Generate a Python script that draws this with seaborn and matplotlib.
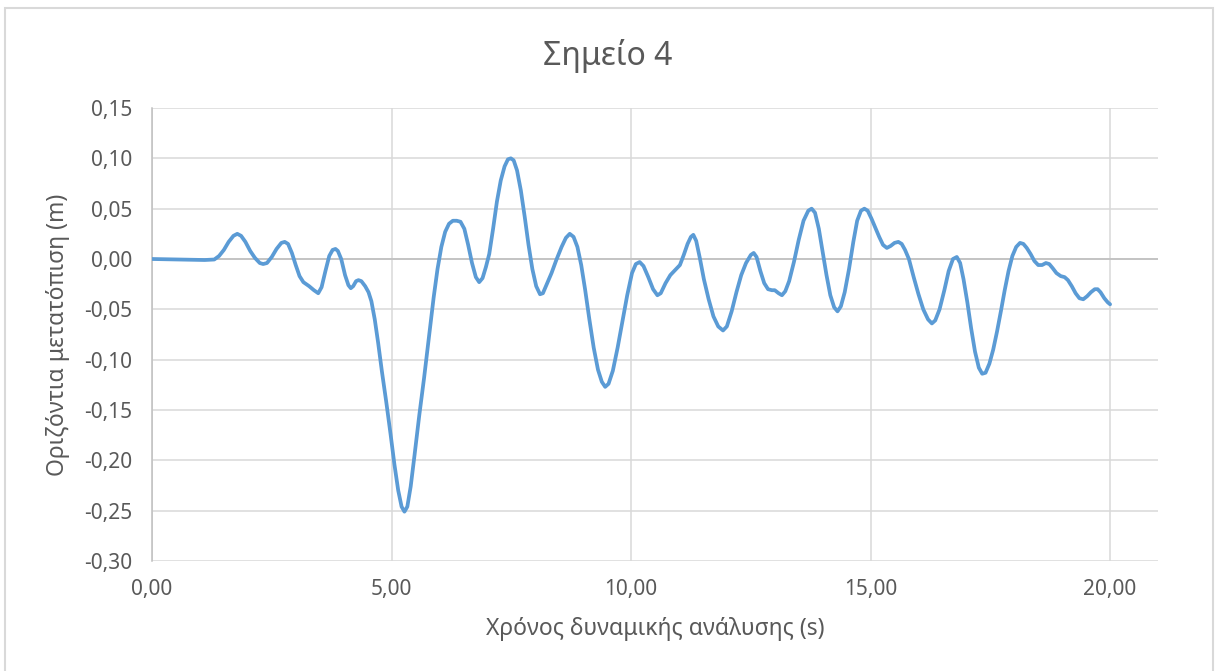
import matplotlib
matplotlib.use("Agg")
import matplotlib.pyplot as plt
import matplotlib.ticker as mticker
from matplotlib.patches import Rectangle
import seaborn as sns
import pandas as pd

# Horizontal displacement time history at point 4
time_s = [
    0.00, 0.60, 1.10, 1.30, 1.40, 1.50, 1.60, 1.70, 1.78, 1.86,
    1.95, 2.05, 2.15, 2.25, 2.32, 2.40, 2.50, 2.60, 2.70, 2.77,
    2.84, 2.92, 3.00, 3.08, 3.16, 3.28, 3.38, 3.47, 3.54, 3.62,
    3.70, 3.77, 3.83, 3.88, 3.95, 4.03, 4.10, 4.15, 4.20, 4.26,
    4.31, 4.37, 4.45, 4.52, 4.58, 4.65, 4.72, 4.80, 4.89, 4.98,
    5.06, 5.14, 5.21, 5.27, 5.33, 5.40, 5.48, 5.58, 5.68, 5.78,
    5.88, 5.96, 6.04, 6.12, 6.20, 6.28, 6.36, 6.44, 6.52, 6.60,
    6.68, 6.76, 6.83, 6.90, 6.97, 7.04, 7.12, 7.20, 7.28, 7.36,
    7.43, 7.49, 7.55, 7.62, 7.70, 7.78, 7.86, 7.94, 8.02, 8.10,
    8.16, 8.24, 8.34, 8.44, 8.55, 8.64, 8.72, 8.80, 8.88, 8.96,
    9.04, 9.13, 9.22, 9.31, 9.39, 9.46, 9.53, 9.62, 9.72, 9.82,
    9.92, 10.02, 10.10, 10.18, 10.26, 10.36, 10.46, 10.55, 10.62, 10.72,
    10.82, 10.92, 11.02, 11.10, 11.18, 11.25, 11.30, 11.36, 11.44, 11.52,
    11.62, 11.72, 11.82, 11.92, 12.00, 12.10, 12.20, 12.30, 12.40, 12.50,
    12.56, 12.62, 12.70, 12.78, 12.86, 12.94, 13.00, 13.08, 13.15, 13.22,
    13.30, 13.40, 13.50, 13.60, 13.70, 13.77, 13.84, 13.92, 14.00, 14.08,
    14.16, 14.24, 14.31, 14.38, 14.46, 14.55, 14.64, 14.72, 14.80, 14.87,
    14.94, 15.02, 15.10, 15.18, 15.26, 15.34, 15.42, 15.50, 15.58, 15.65,
    15.72, 15.80, 15.90, 16.00, 16.10, 16.20, 16.28, 16.35, 16.44, 16.54,
    16.63, 16.72, 16.80, 16.87, 16.94, 17.02, 17.10, 17.18, 17.26, 17.33,
    17.40, 17.48, 17.56, 17.64, 17.72, 17.80, 17.88, 17.96, 18.04, 18.12,
    18.19, 18.26, 18.34, 18.42, 18.50, 18.58, 18.66, 18.73, 18.80, 18.88,
    18.97, 19.05, 19.12, 19.20, 19.28, 19.36, 19.44, 19.52, 19.60, 19.68,
    19.74, 19.80, 19.88, 19.95, 20.00,
]
displacement_m = [
    0.000, -0.0005, -0.001, -0.0005, 0.003, 0.009, 0.017, 0.023, 0.025, 0.023,
    0.017, 0.008, 0.001, -0.004, -0.005, -0.004, 0.002, 0.010, 0.016, 0.017,
    0.015, 0.006, -0.006, -0.017, -0.023, -0.027, -0.031, -0.034, -0.028, -0.012,
    0.003, 0.009, 0.010, 0.008, 0.000, -0.016, -0.026, -0.029, -0.027, -0.022,
    -0.021, -0.022, -0.027, -0.033, -0.042, -0.060, -0.083, -0.112, -0.142, -0.174,
    -0.204, -0.230, -0.246, -0.251, -0.246, -0.226, -0.195, -0.155, -0.118, -0.078,
    -0.038, -0.010, 0.012, 0.027, 0.035, 0.038, 0.038, 0.037, 0.030, 0.014,
    -0.004, -0.018, -0.023, -0.019, -0.008, 0.005, 0.030, 0.057, 0.078, 0.092,
    0.099, 0.100, 0.098, 0.088, 0.068, 0.042, 0.014, -0.010, -0.027, -0.035,
    -0.034, -0.025, -0.014, -0.001, 0.012, 0.021, 0.025, 0.022, 0.012, -0.006,
    -0.030, -0.060, -0.088, -0.110, -0.122, -0.127, -0.124, -0.111, -0.088, -0.062,
    -0.036, -0.014, -0.005, -0.003, -0.007, -0.018, -0.030, -0.036, -0.034, -0.024,
    -0.016, -0.011, -0.006, 0.004, 0.015, 0.022, 0.024, 0.018, 0.000, -0.020,
    -0.040, -0.057, -0.067, -0.071, -0.067, -0.052, -0.033, -0.016, -0.004, 0.004,
    0.006, 0.002, -0.012, -0.024, -0.030, -0.031, -0.031, -0.034, -0.036, -0.032,
    -0.022, -0.003, 0.019, 0.038, 0.048, 0.050, 0.046, 0.030, 0.007, -0.016,
    -0.036, -0.048, -0.052, -0.047, -0.033, -0.010, 0.017, 0.038, 0.048, 0.050,
    0.048, 0.040, 0.031, 0.022, 0.014, 0.011, 0.013, 0.016, 0.017, 0.015,
    0.009, 0.000, -0.018, -0.035, -0.050, -0.060, -0.064, -0.061, -0.050, -0.031,
    -0.012, 0.000, 0.002, -0.004, -0.020, -0.043, -0.069, -0.092, -0.108, -0.114,
    -0.113, -0.104, -0.090, -0.072, -0.052, -0.031, -0.012, 0.003, 0.012, 0.016,
    0.015, 0.011, 0.005, -0.002, -0.006, -0.006, -0.004, -0.005, -0.009, -0.014,
    -0.017, -0.018, -0.021, -0.027, -0.034, -0.039, -0.040, -0.037, -0.033, -0.030,
    -0.030, -0.033, -0.039, -0.043, -0.045,
]
assert len(time_s) == len(displacement_m)

x_ticks = [0, 5, 10, 15, 20]
y_ticks = [-0.30, -0.25, -0.20, -0.15, -0.10, -0.05, 0.00, 0.05, 0.10, 0.15]

title_text = "Σημείο 4"
x_label = "Χρόνος δυναμικής ανάλυσης (s)"
y_label = "Οριζόντια μετατόπιση (m)"

df = pd.DataFrame({"t": time_s, "u": displacement_m})

sns.set_theme(style="white")
plt.rcParams["font.family"] = ["Noto Sans", "DejaVu Sans"]

text_grey = "#595959"
grid_grey = "#D9D9D9"
axis_grey = "#BFBFBF"
line_blue = "#5B9BD5"

W, H = 1215, 671
fig = plt.figure(figsize=(W / 100, H / 100), dpi=100)
fig.patch.set_facecolor("white")
ax = fig.add_axes([152 / W, 1 - 561 / H, (1158 - 152) / W, (561 - 108) / H])

sns.lineplot(data=df, x="t", y="u", ax=ax, color=line_blue, linewidth=2.7,
             solid_joinstyle="round", solid_capstyle="round", zorder=3)

ax.set_xlim(0, 21)
ax.set_ylim(-0.30, 0.15)
ax.set_xticks(x_ticks)
ax.set_yticks(y_ticks)

comma = lambda v, _: f"{v:.2f}".replace(".", ",").replace("-0,00", "0,00")
ax.xaxis.set_major_formatter(mticker.FuncFormatter(comma))
ax.yaxis.set_major_formatter(mticker.FuncFormatter(comma))

ax.grid(True, color=grid_grey, linewidth=1.1, zorder=0)
for side in ["top", "right", "bottom"]:
    ax.spines[side].set_visible(False)
ax.spines["left"].set_color(axis_grey)
ax.spines["left"].set_linewidth(1.1)
ax.axhline(0, color=axis_grey, linewidth=1.2, zorder=1)

ax.tick_params(axis="both", length=0, labelsize=15, labelcolor=text_grey)
ax.tick_params(axis="x", pad=13)
ax.tick_params(axis="y", pad=14)

ax.set_xlabel(x_label, fontsize=16.5, color=text_grey, labelpad=12)
ax.set_ylabel(y_label, fontsize=16.5, color=text_grey, labelpad=10)

# Chart title centred over the whole chart area
fig.text(0.5, 1 - 65 / H, title_text, fontsize=23, color=text_grey,
         ha="center", va="baseline")

# Chart area frame
fig.patches.append(Rectangle((5 / W, -0.01), (1213 - 5) / W, 1 - 8 / H + 0.01,
                             transform=fig.transFigure, fill=False,
                             edgecolor=grid_grey, linewidth=1.5))

fig.savefig("out.png", dpi=100)
